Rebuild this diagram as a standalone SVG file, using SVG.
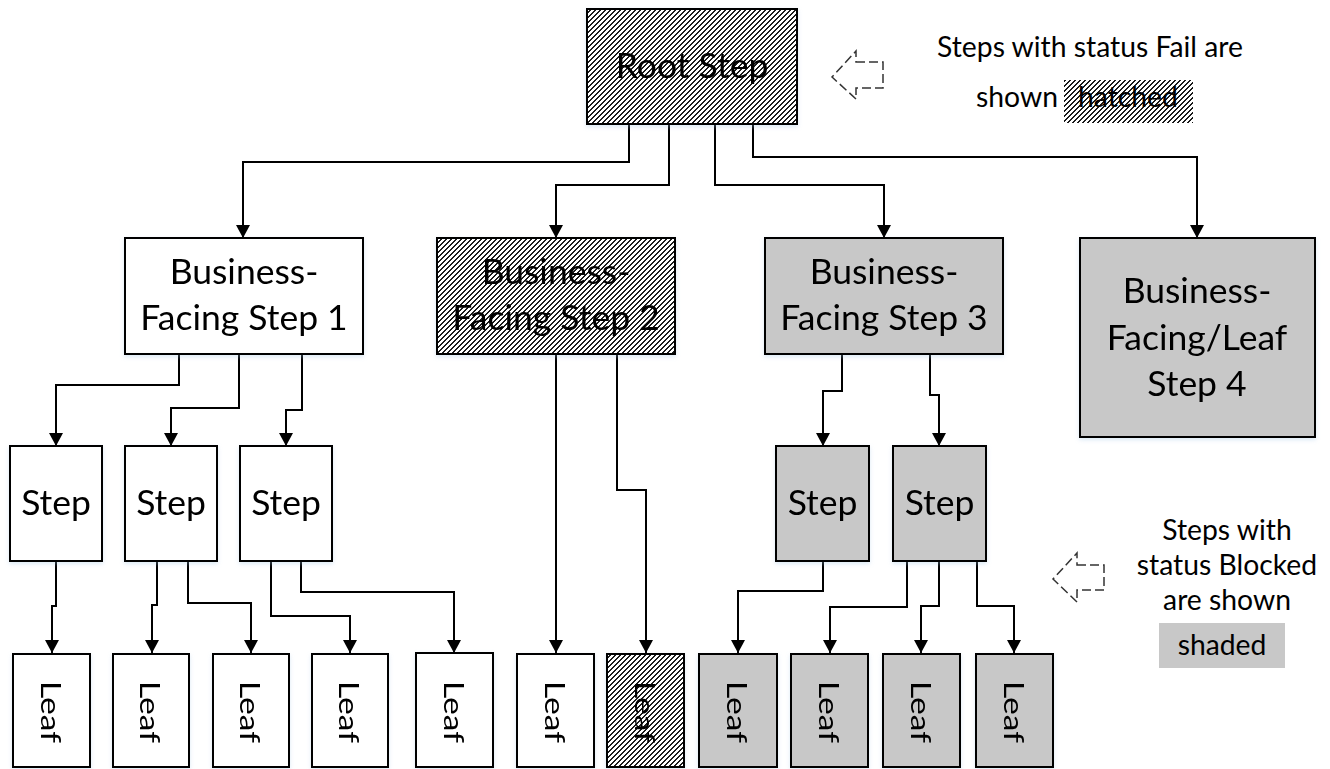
<svg xmlns="http://www.w3.org/2000/svg" width="1330" height="769" viewBox="0 0 1330 769">
  <defs>
    <!-- pixel-aligned diagonal hatch for failed steps -->
    <pattern id="hatch" patternUnits="userSpaceOnUse" x="0" y="0" width="5" height="5">
      <rect width="5" height="5" fill="#fff"/>
      <path d="M4,0h1v1h-1z M0,0h1v1h-1z M3,1h2v1h-2z M2,2h2v1h-2z M1,3h2v1h-2z M0,4h2v1h-2z" fill="#1a1a1a" shape-rendering="crispEdges"/>
    </pattern>
    <marker id="arrow" viewBox="0 0 13 14" refX="13" refY="7" markerWidth="13" markerHeight="14" markerUnits="userSpaceOnUse" orient="auto">
      <path d="M0,0 L13,7 L0,14 z" fill="#000"/>
    </marker>
    <filter id="glow" x="-10%" y="-10%" width="120%" height="130%">
      <feDropShadow dx="0" dy="2" stdDeviation="2" flood-color="#9dc3e6" flood-opacity="0.35"/>
    </filter>
    <style>
      .box { stroke: #000; stroke-width: 2; }
      .plain { fill: #fff; }
      .fail { fill: url(#hatch); }
      .blocked { fill: #c8c8c8; }
      .node { filter: url(#glow); }
      .lbl { font-family: Lato, "Liberation Sans", sans-serif; font-size: 35.5px; fill: #000; text-anchor: middle; }
      .leaf { font-family: Lato, "Liberation Sans", sans-serif; font-size: 27px; fill: #000; text-anchor: middle; }
      .legend { font-family: Lato, "Liberation Sans", sans-serif; font-size: 28.3px; fill: #000; text-anchor: middle; }
      .wire { fill: none; stroke: #000; stroke-width: 2; marker-end: url(#arrow); }
      .hint { fill: none; stroke: #333; stroke-width: 1.5; stroke-dasharray: 9 4; }
    </style>
  </defs>

  <rect width="1330" height="769" fill="#fff"/>

  <!-- connectors -->
  <g id="connectors">
    <path class="wire" d="M629,124 V162 H243 V238"/>
    <path class="wire" d="M669,124 V185 H556 V238"/>
    <path class="wire" d="M715,124 V185 H884 V238"/>
    <path class="wire" d="M753,124 V157 H1197 V238"/>

    <path class="wire" d="M179,354 V385 H56 V446"/>
    <path class="wire" d="M239,354 V408 H171 V446"/>
    <path class="wire" d="M302,354 V410 H286 V446"/>

    <path class="wire" d="M556,354 V653"/>
    <path class="wire" d="M617,354 V490 H646 V653"/>

    <path class="wire" d="M842,354 V391 H823 V446"/>
    <path class="wire" d="M930,354 V395 H939 V446"/>

    <path class="wire" d="M56,561 V606 H52 V653"/>
    <path class="wire" d="M157,561 V605 H152 V653"/>
    <path class="wire" d="M188,561 V603 H251 V653"/>
    <path class="wire" d="M271,561 V616 H350 V653"/>
    <path class="wire" d="M301,561 V592 H454 V653"/>

    <path class="wire" d="M823,561 V591 H738 V653"/>
    <path class="wire" d="M907,561 V607 H830 V653"/>
    <path class="wire" d="M939,561 V606 H921 V653"/>
    <path class="wire" d="M977,561 V606 H1014 V653"/>
  </g>

  <!-- root -->
  <g id="root" class="node">
    <rect class="box fail" x="587" y="9" width="210" height="115"/>
    <text class="lbl" x="692" y="78">Root Step</text>
  </g>

  <!-- business-facing steps -->
  <g id="bf1" class="node">
    <rect class="box plain" x="125" y="238" width="238" height="116"/>
    <text class="lbl" x="244" y="284">Business-</text>
    <text class="lbl" x="244" y="330">Facing Step 1</text>
  </g>
  <g id="bf2" class="node">
    <rect class="box fail" x="437" y="238" width="238" height="116"/>
    <text class="lbl" x="556" y="284">Business-</text>
    <text class="lbl" x="556" y="330">Facing Step 2</text>
  </g>
  <g id="bf3" class="node">
    <rect class="box blocked" x="765" y="238" width="238" height="116"/>
    <text class="lbl" x="884" y="284">Business-</text>
    <text class="lbl" x="884" y="330">Facing Step 3</text>
  </g>
  <g id="bf4" class="node">
    <rect class="box blocked" x="1080" y="238" width="235" height="199"/>
    <text class="lbl" x="1197" y="303">Business-</text>
    <text class="lbl" x="1197" y="350">Facing/Leaf</text>
    <text class="lbl" x="1197" y="396">Step 4</text>
  </g>

  <!-- intermediate steps -->
  <g id="step1" class="node">
    <rect class="box plain" x="10" y="446" width="92" height="115"/>
    <text class="lbl" x="56" y="515">Step</text>
  </g>
  <g id="step2" class="node">
    <rect class="box plain" x="125" y="446" width="92" height="115"/>
    <text class="lbl" x="171" y="515">Step</text>
  </g>
  <g id="step3" class="node">
    <rect class="box plain" x="240" y="446" width="92" height="115"/>
    <text class="lbl" x="286" y="515">Step</text>
  </g>
  <g id="step4" class="node">
    <rect class="box blocked" x="776" y="446" width="93" height="115"/>
    <text class="lbl" x="822.5" y="515">Step</text>
  </g>
  <g id="step5" class="node">
    <rect class="box blocked" x="893" y="446" width="93" height="115"/>
    <text class="lbl" x="939.5" y="515">Step</text>
  </g>

  <!-- leaves -->
  <g id="leaf1" class="node">
    <rect class="box plain" x="13" y="654" width="77" height="113"/>
    <text class="leaf" transform="translate(51.5,712) rotate(90)" y="11" textLength="62" lengthAdjust="spacingAndGlyphs">Leaf</text>
  </g>
  <g id="leaf2" class="node">
    <rect class="box plain" x="113" y="654" width="76" height="113"/>
    <text class="leaf" transform="translate(151,712) rotate(90)" y="11" textLength="62" lengthAdjust="spacingAndGlyphs">Leaf</text>
  </g>
  <g id="leaf3" class="node">
    <rect class="box plain" x="213" y="654" width="76" height="113"/>
    <text class="leaf" transform="translate(251,712) rotate(90)" y="11" textLength="62" lengthAdjust="spacingAndGlyphs">Leaf</text>
  </g>
  <g id="leaf4" class="node">
    <rect class="box plain" x="312" y="654" width="76" height="113"/>
    <text class="leaf" transform="translate(350,712) rotate(90)" y="11" textLength="62" lengthAdjust="spacingAndGlyphs">Leaf</text>
  </g>
  <g id="leaf5" class="node">
    <rect class="box plain" x="416" y="653" width="77" height="114"/>
    <text class="leaf" transform="translate(454.5,712) rotate(90)" y="11" textLength="62" lengthAdjust="spacingAndGlyphs">Leaf</text>
  </g>
  <g id="leaf6" class="node">
    <rect class="box plain" x="517" y="654" width="77" height="113"/>
    <text class="leaf" transform="translate(555.5,712) rotate(90)" y="11" textLength="62" lengthAdjust="spacingAndGlyphs">Leaf</text>
  </g>
  <g id="leaf7" class="node">
    <rect class="box fail" x="607" y="654" width="77" height="113"/>
    <text class="leaf" transform="translate(645.5,712) rotate(90)" y="11" textLength="62" lengthAdjust="spacingAndGlyphs">Leaf</text>
  </g>
  <g id="leaf8" class="node">
    <rect class="box blocked" x="699" y="654" width="78" height="113"/>
    <text class="leaf" transform="translate(738,712) rotate(90)" y="11" textLength="62" lengthAdjust="spacingAndGlyphs">Leaf</text>
  </g>
  <g id="leaf9" class="node">
    <rect class="box blocked" x="791" y="654" width="77" height="113"/>
    <text class="leaf" transform="translate(829.5,712) rotate(90)" y="11" textLength="62" lengthAdjust="spacingAndGlyphs">Leaf</text>
  </g>
  <g id="leaf10" class="node">
    <rect class="box blocked" x="883" y="654" width="77" height="113"/>
    <text class="leaf" transform="translate(921.5,712) rotate(90)" y="11" textLength="62" lengthAdjust="spacingAndGlyphs">Leaf</text>
  </g>
  <g id="leaf11" class="node">
    <rect class="box blocked" x="976" y="654" width="77" height="113"/>
    <text class="leaf" transform="translate(1014.5,712) rotate(90)" y="11" textLength="62" lengthAdjust="spacingAndGlyphs">Leaf</text>
  </g>

  <!-- legend: failed steps -->
  <g id="legend-fail">
    <path class="hint" d="M856,62 H883 V88 H856 V99 L832,77 L856,51 Z"/>
    <text class="legend" x="1090" y="57">Steps with status Fail are</text>
    <text class="legend" x="1017" y="107">shown</text>
    <rect class="fail" x="1064" y="80" width="129" height="43"/>
    <text class="legend" x="1128" y="107">hatched</text>
  </g>

  <!-- legend: blocked steps -->
  <g id="legend-blocked">
    <path class="hint" d="M1077,565 H1104 V590 H1077 V602 L1053,579 L1077,553 Z"/>
    <text class="legend" x="1227" y="540">Steps with</text>
    <text class="legend" x="1227" y="575">status Blocked</text>
    <text class="legend" x="1227" y="610">are shown</text>
    <rect class="blocked" x="1159" y="623" width="126" height="45"/>
    <text class="legend" x="1222" y="655">shaded</text>
  </g>
</svg>
